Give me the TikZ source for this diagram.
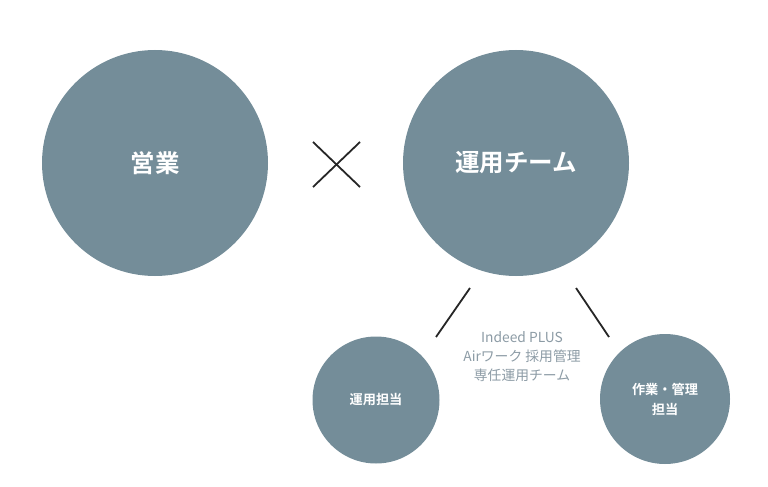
\documentclass[tikz,border=0pt]{standalone}
\usepackage{fontspec}
\newfontfamily\cjk{Noto Sans CJK JP}
\newfontfamily\cjkb{Noto Sans CJK JP Bold}
\definecolor{circ}{HTML}{748D99}
\definecolor{graytxt}{HTML}{8C9BA5}
\begin{document}
\begin{tikzpicture}[x=1pt,y=-1pt,
  bigc/.style={circle,fill=circ,minimum size=226pt,inner sep=0pt,text=white,font=\cjkb\fontsize{24.5}{28}\selectfont},
  smallc/.style={circle,fill=circ,minimum size=127pt,inner sep=0pt,text=white,align=center,font=\cjkb\fontsize{13.2}{20}\selectfont},
  conn/.style={line width=1.8pt,black!85}]
\useasboundingbox (0,0) rectangle (768,487);
\node[bigc] (sales) at (155,163) {営業};
\node[bigc] (ops) at (516,163) {運用チーム};
\node[smallc] (opsr) at (376,400) {運用担当};
\node[smallc,minimum size=130pt] (work) at (665,399) {作業・管理\\担当};
\coordinate (x1) at (313,142);
\coordinate (x2) at (360,187);
\coordinate (x3) at (360,142);
\coordinate (x4) at (313,187);
\draw[conn] (x1) -- (x2);
\draw[conn] (x3) -- (x4);
\coordinate (la) at (470,288);
\coordinate (lb) at (436,337);
\coordinate (ra) at (576,288);
\coordinate (rb) at (609,337);
\draw[conn] (la) -- (lb);
\draw[conn] (ra) -- (rb);
\node[text=graytxt,align=center,font=\cjk\fontsize{13.8}{19}\selectfont] (mid) at (522,357) {Indeed PLUS\\Airワーク 採用管理\\専任運用チーム};
\end{tikzpicture}
\end{document}
